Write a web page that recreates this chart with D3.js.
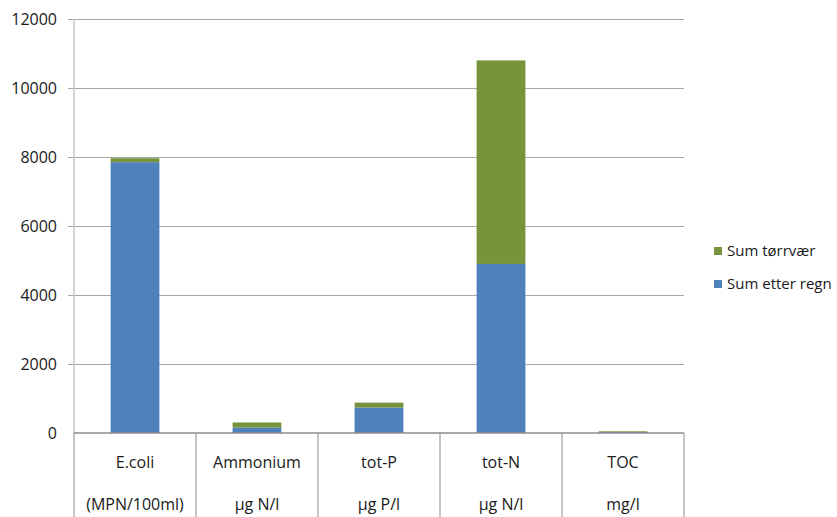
<!DOCTYPE html>
<html>
<head>
<meta charset="utf-8">
<script src="https://cdn.jsdelivr.net/npm/d3@7"></script>
<style>
  body { margin: 0; background: #fff; }
  text { font-family: "Open Sans", "Liberation Sans", sans-serif; fill: #1a1a1a; }
</style>
</head>
<body>
<div id="chart"></div>
<script>
var categories = ["E.coli", "Ammonium", "tot-P", "tot-N", "TOC"];
var units = ["(MPN/100ml)", "µg N/l", "µg P/l", "µg N/l", "mg/l"];
var etterRegn = [7850, 160, 740, 4900, 30];
var torrvaer = [115, 145, 140, 5900, 20];
var seriesNames = ["Sum etter regn", "Sum tørrvær"];
var yTicks = [0, 2000, 4000, 6000, 8000, 10000, 12000];

var colors = ["#4F81BD", "#77933C"];
var width = 837, height = 517;
var margin = { top: 19, left: 74, right: 153, bottom: 84 };
var plotW = width - margin.left - margin.right;
var plotH = height - margin.top - margin.bottom;

var svg = d3.select("#chart").append("svg")
    .attr("width", width)
    .attr("height", height);

var g = svg.append("g")
    .attr("transform", "translate(" + margin.left + "," + margin.top + ")");

var x = d3.scaleBand().domain(categories).range([0, plotW]).paddingInner(0).paddingOuter(0);
var y = d3.scaleLinear().domain([0, 12000]).range([plotH, 0]);

// gridlines
g.selectAll(".grid")
    .data(yTicks.slice(1))
    .enter().append("line")
    .attr("x1", -6).attr("x2", plotW)
    .attr("y1", function(d) { return y(d); })
    .attr("y2", function(d) { return y(d); })
    .attr("stroke", "#a6a6a6")
    .attr("stroke-width", 1)
    .attr("shape-rendering", "crispEdges");

// y axis line
g.append("line")
    .attr("x1", 0).attr("x2", 0)
    .attr("y1", 0).attr("y2", plotH)
    .attr("stroke", "#c8c8c8")
    .attr("stroke-width", 1.5);

g.selectAll(".ylab")
    .data(yTicks)
    .enter().append("text")
    .attr("x", -17)
    .attr("y", function(d) { return y(d); })
    .attr("dy", "0.35em")
    .attr("text-anchor", "end")
    .style("font-size", "16px")
    .text(function(d) { return d; });

// stacked bars
var rows = categories.map(function(c, i) {
    return { cat: c, a: etterRegn[i], b: torrvaer[i] };
});
var stack = d3.stack().keys(["a", "b"])(rows);
var barW = x.bandwidth() * 0.4;

g.selectAll(".series")
    .data(stack)
    .enter().append("g")
    .attr("fill", function(d, i) { return colors[i]; })
    .selectAll("rect")
    .data(function(d) { return d; })
    .enter().append("rect")
    .attr("x", function(d) { return x(d.data.cat) + (x.bandwidth() - barW) / 2; })
    .attr("width", barW)
    .attr("y", function(d) { return y(d[1]); })
    .attr("height", function(d) { return y(d[0]) - y(d[1]); });

// category axis
g.append("line")
    .attr("x1", 0).attr("x2", plotW)
    .attr("y1", plotH).attr("y2", plotH)
    .attr("stroke", "#8c8c8c")
    .attr("stroke-width", 1.5);

var bounds = categories.map(function(c) { return x(c); }).concat([plotW]);
g.selectAll(".sep")
    .data(bounds)
    .enter().append("line")
    .attr("x1", function(d) { return d; })
    .attr("x2", function(d) { return d; })
    .attr("y1", plotH).attr("y2", height - margin.top)
    .attr("stroke", "#8c8c8c")
    .attr("stroke-width", 1);

g.selectAll(".cat")
    .data(categories)
    .enter().append("text")
    .attr("x", function(d) { return x(d) + x.bandwidth() / 2; })
    .attr("y", plotH + 35)
    .attr("text-anchor", "middle")
    .style("font-size", "16px")
    .text(function(d) { return d; });

g.selectAll(".unit")
    .data(units)
    .enter().append("text")
    .attr("x", function(d, i) { return x(categories[i]) + x.bandwidth() / 2; })
    .attr("y", plotH + 77)
    .attr("text-anchor", "middle")
    .style("font-size", "16px")
    .text(function(d) { return d; });

// legend
var legend = svg.append("g").attr("transform", "translate(714,251)");
var legendItems = [1, 0];
legend.selectAll("rect")
    .data(legendItems)
    .enter().append("rect")
    .attr("x", 0)
    .attr("y", function(d, i) { return i * 33 - 4; })
    .attr("width", 8).attr("height", 8)
    .attr("fill", function(d) { return colors[d]; });

legend.selectAll("text")
    .data(legendItems)
    .enter().append("text")
    .attr("x", 13)
    .attr("y", function(d, i) { return i * 33; })
    .attr("dy", "0.35em")
    .style("font-size", "15px")
    .text(function(d) { return seriesNames[d]; });
</script>
</body>
</html>
